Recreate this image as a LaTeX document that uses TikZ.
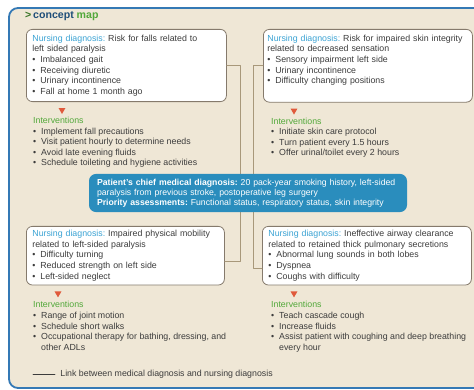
\documentclass[tikz,border=0pt]{standalone}
\usepackage{fontspec}
\setmainfont{Liberation Sans}
\usetikzlibrary{positioning,shapes.geometric}
\definecolor{bg}{HTML}{EFE7D6}
\definecolor{frm}{HTML}{3479B5}
\definecolor{medblue}{HTML}{2A8DBD}
\definecolor{ndblue}{HTML}{3BA3D4}
\definecolor{ivgreen}{HTML}{52A83A}
\definecolor{tricol}{HTML}{E05A3C}
\definecolor{lnk}{HTML}{A8987A}
\definecolor{txt}{HTML}{3C3C3C}
\definecolor{bord}{HTML}{857A6C}
\definecolor{navy}{HTML}{1F4E79}
\frenchspacing
\newcommand{\nd}{\textcolor{ndblue}{Nursing diagnosis:} }
\newcommand{\ivt}{\textcolor{ivgreen}{Interventions}}
\newcommand{\bl}{\makebox[8pt][l]{\textbullet}}
\begin{document}
\begin{tikzpicture}[x=1pt,y=-1pt, font=\fontsize{8.8}{10.6}\selectfont, line join=round, line cap=round,
 ndbox/.style={draw=bord, line width=.8pt, fill=white, rounded corners=6pt, anchor=north west, align=left, inner xsep=6pt, inner ysep=5.5pt, text=txt},
 ivlist/.style={anchor=north west, align=left, inner sep=0pt, text=txt},
 trimark/.style={regular polygon, regular polygon sides=3, shape border rotate=180, fill=tricol, inner sep=0pt, minimum size=8pt},
 link/.style={draw=lnk, line width=.9pt},
 medbox/.style={fill=medblue, rounded corners=7pt, text=white, align=left, text width=302pt, inner xsep=8pt, inner ysep=5pt, font=\fontsize{8.7}{10}\selectfont}]
 \useasboundingbox (0,0) rectangle (474,390);
 \begin{scope}
 \clip (0,0) rectangle (474,390);
 \draw[draw=frm, fill=bg, line width=1.8pt, rounded corners=9pt] (9,8) rectangle (490,388);
 \end{scope}
 \node[anchor=west, inner sep=0pt, font=\fontsize{10.6}{12}\selectfont\bfseries] (ttl) at (25,16) {\textcolor{ivgreen!70!black}{>}\,\textcolor{navy}{concept} \textcolor{ivgreen}{map}};
 \node[ndbox, text width=188pt] (d1) at (26,29) {\nd Risk for falls related to\\left sided paralysis\\\bl Imbalanced gait\\\bl Receiving diuretic\\\bl Urinary incontinence\\\bl Fall at home 1 month ago};
 \node[ndbox, text width=201pt, inner xsep=4pt, text depth=55.4pt] (d2) at (263,29) {\nd Risk for impaired skin integrity\\related to decreased sensation\\\bl Sensory impairment left side\\\bl Urinary incontinence\\\bl Difficulty changing positions};
 \node[ndbox, text width=186pt, inner ysep=4pt] (d3) at (26,226) {\nd Impaired physical mobility\\related to left-sided paralysis\\\bl Difficulty turning\\\bl Reduced strength on left side\\\bl Left-sided neglect};
 \node[ndbox, text width=197pt, inner ysep=4pt] (d4) at (262,226) {\nd Ineffective airway clearance\\related to retained thick pulmonary secretions\\\bl Abnormal lung sounds in both lobes\\\bl Dyspnea\\\bl Coughs with difficulty};
 \foreach\b/\s in{d1/36,d2/31,d3/32,d4/32}{\node[trimark] (t\b) at ([shift={(\s,8)}]\b.south west){};}
 \node[ivlist] (i1) at ([shift={(7,15)}]d1.south west) {\ivt\\\bl Implement fall precautions\\\bl Visit patient hourly to determine needs\\\bl Avoid late evening fluids\\\bl Schedule toileting and hygiene activities};
 \node[ivlist] (i2) at ([shift={(8,15)}]d2.south west) {\ivt\\\bl Initiate skin care protocol\\\bl Turn patient every 1.5 hours\\\bl Offer urinal/toilet every 2 hours};
 \node[ivlist] (i3) at ([shift={(7,16)}]d3.south west) {\ivt\\\bl Range of joint motion\\\bl Schedule short walks\\\bl Occupational therapy for bathing, dressing, and\\\hspace*{8pt}other ADLs};
 \node[ivlist] (i4) at ([shift={(9,16)}]d4.south west) {\ivt\\\bl Teach cascade cough\\\bl Increase fluids\\\bl Assist patient with coughing and deep breathing\\\hspace*{8pt}every hour};
 \draw[link] (d1.east) -- ++(14,0) |- ([shift={(0,5.5)}]d3.east);
 \draw[link] (d2.west) -- ++(-10,0) |- ([shift={(0,13)}]d4.west);
 \node[medbox] (md) at (248,193) {\textbf{Patient's chief medical diagnosis:} 20 pack-year smoking history, left-sided\\paralysis from previous stroke, postoperative leg surgery\\\textbf{Priority assessments:} Functional status, respiratory status, skin integrity};
 \coordinate (lg) at (33,374);
 \draw[line width=.8pt, draw=txt] (lg) -- ++(22,0) node[right, inner sep=0pt, xshift=5pt, text=txt] (lgt) {Link between medical diagnosis and nursing diagnosis};
\end{tikzpicture}
\end{document}
